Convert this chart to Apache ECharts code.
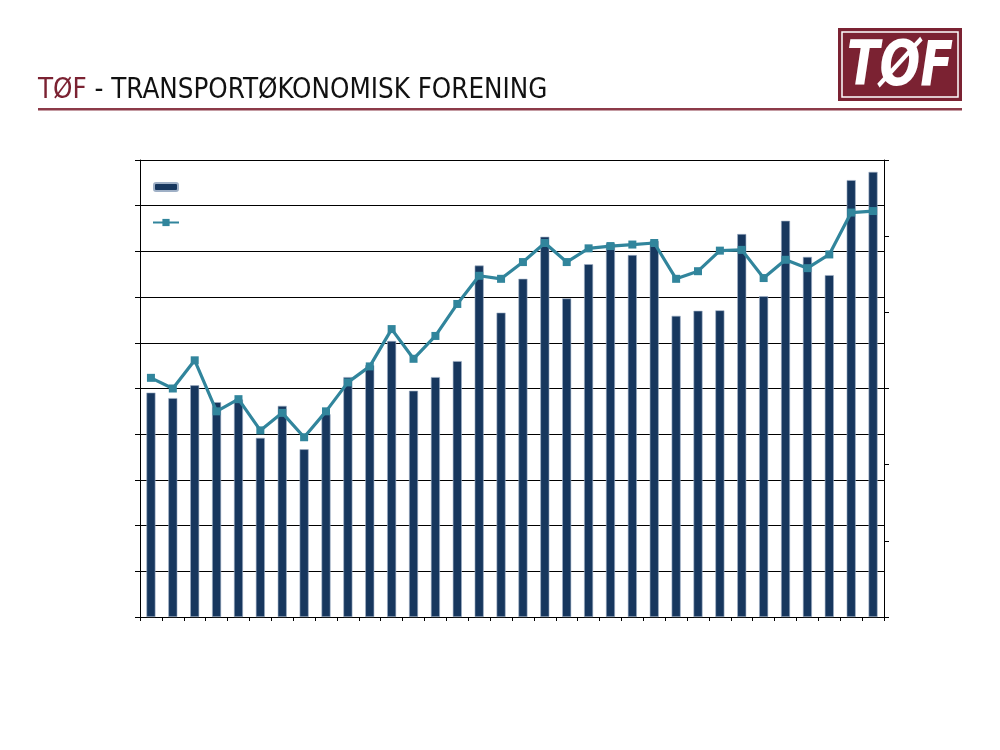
<!DOCTYPE html>
<html>
<head>
<meta charset="utf-8">
<script src="https://cdn.jsdelivr.net/npm/echarts@6/dist/echarts.min.js"></script>
<style>html,body{margin:0;padding:0;background:#fff}#c{width:1000px;height:750px}</style>
</head>
<body>
<div id="c"></div>
<script>
var categories = ['1','2','3','4','5','6','7','8','9','10','11','12','13','14','15','16','17','18','19','20','21','22','23','24','25','26','27','28','29','30','31','32','33','34'];
var barValues = [49.1, 47.9, 50.7, 47.0, 47.6, 39.2, 46.2, 36.7, 44.4, 52.5, 55.1, 60.4, 49.5, 52.5, 56.0, 76.9, 66.6, 74.0, 83.2, 69.7, 77.2, 81.8, 79.2, 82.3, 65.9, 67.0, 67.1, 83.8, 70.2, 86.7, 78.8, 74.8, 95.6, 97.4];
var lineValues = [31.4, 30.0, 33.7, 27.0, 28.6, 24.5, 26.8, 23.6, 27.0, 30.8, 32.9, 37.8, 33.9, 36.9, 41.1, 44.8, 44.4, 46.6, 49.1, 46.6, 48.4, 48.7, 48.9, 49.1, 44.4, 45.4, 48.1, 48.2, 44.5, 46.9, 45.8, 47.6, 53.1, 53.3];
var titleRed = 'TØF';
var titleRest = ' - TRANSPORTØKONOMISK FORENING';
var logoText = 'TØF';
var barName = 'Serie 1';
var lineName = 'Serie 2';

var chart = echarts.init(document.getElementById('c'), null, {renderer: 'canvas'});
var navy = '#17375E';
var teal = '#31859C';
var maroon = '#7B2232';
var narrow = '"Liberation Sans Narrow", "DejaVu Sans Condensed", sans-serif';
chart.setOption({
  animation: false,
  backgroundColor: '#fff',
  grid: {left: 140, right: 116, top: 160, bottom: 133, containLabel: false},
  legend: [
    {data: [barName], orient: 'vertical', left: 153, top: 182, padding: 0, itemWidth: 24, itemHeight: 8, formatter: function(){return '';}, textStyle: {fontSize: 1}},
    {data: [lineName], orient: 'vertical', left: 152, top: 218, padding: 0, itemWidth: 26, itemHeight: 9, formatter: function(){return '';}, textStyle: {fontSize: 1}}
  ],
  xAxis: {
    type: 'category', data: categories, boundaryGap: true,
    axisLine: {show: true, lineStyle: {color: '#000', width: 1}},
    axisTick: {show: true, length: 4, lineStyle: {color: '#000'}},
    axisLabel: {show: false},
    splitLine: {show: false}
  },
  yAxis: [
    {type: 'value', min: 0, max: 100, interval: 10, position: 'left',
     axisLine: {show: true, lineStyle: {color: '#000', width: 1}},
     axisTick: {show: true, length: 5, lineStyle: {color: '#000'}},
     axisLabel: {show: false},
     splitLine: {show: true, lineStyle: {color: '#000', width: 1}}},
    {type: 'value', min: 0, max: 60, interval: 10, position: 'right',
     axisLine: {show: true, lineStyle: {color: '#000', width: 1}},
     axisTick: {show: true, length: 5, lineStyle: {color: '#000'}},
     axisLabel: {show: false},
     splitLine: {show: false}}
  ],
  series: [
    {name: barName, type: 'bar', data: barValues, yAxisIndex: 0, barWidth: 9,
     itemStyle: {color: navy, borderColor: '#9fb0c6', borderWidth: 0.6}},
    {name: lineName, type: 'line', data: lineValues, yAxisIndex: 1,
     symbol: 'rect', symbolSize: 8, showSymbol: true,
     lineStyle: {color: teal, width: 3.2}, itemStyle: {color: teal}}
  ],
  graphic: [
    {type: 'text', x: 38, y: 77, scaleX: 0.98, style: {
      text: '{r|' + titleRed + '}{k|' + titleRest + '}',
      font: '28px ' + narrow,
      rich: {r: {fill: maroon, font: '28px ' + narrow}, k: {fill: '#111', font: '28px ' + narrow}}
    }},
    {type: 'rect', shape: {x: 38, y: 108, width: 924, height: 2.5}, style: {fill: '#8C3A48'}},
    {type: 'rect', shape: {x: 838, y: 28, width: 124, height: 73}, style: {fill: maroon}},
    {type: 'rect', shape: {x: 842, y: 32, width: 116, height: 65}, style: {fill: 'none', stroke: '#fff', lineWidth: 1.5}},
    {type: 'text', x: 900, y: 69, scaleX: 0.86, style: {text: logoText, fill: '#fff', align: 'center', verticalAlign: 'middle', font: 'italic bold 62px ' + narrow}}
  ]
});
</script>
</body>
</html>
